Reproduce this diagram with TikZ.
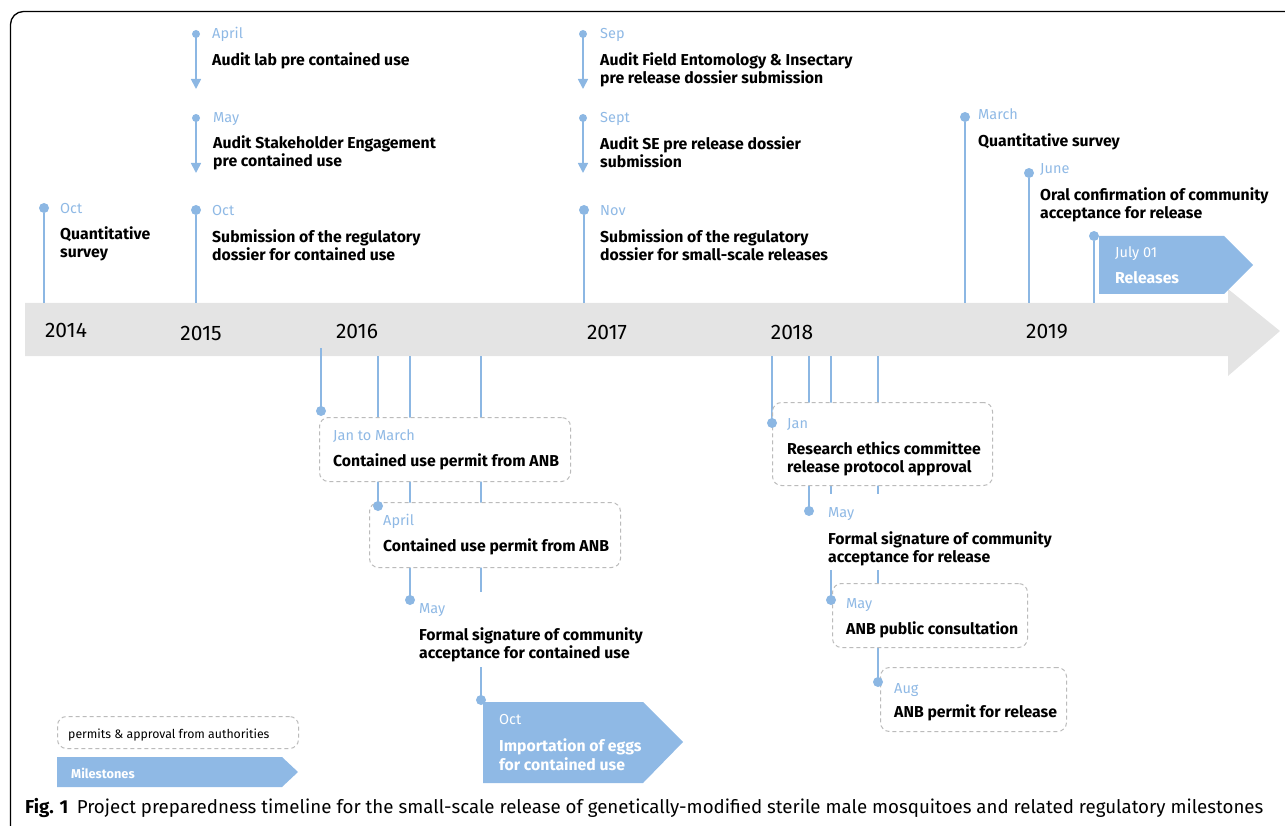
\documentclass[tikz,border=0pt]{standalone}
\usepackage{fontspec}
\setmainfont{Fira Sans}
\usetikzlibrary{arrows.meta}
\definecolor{lblue}{HTML}{8CB7E3}
\definecolor{mblue}{HTML}{8FB9E5}
\definecolor{bargray}{HTML}{E4E4E4}
\definecolor{dashgray}{HTML}{BBBBBB}
\tikzset{
 conn/.style={draw=lblue, line width=1.7},
 arr/.style={draw=lblue, line width=1.7, -{Triangle[width=10pt,length=10pt]}},
 bigdot/.style={circle, fill=lblue, inner sep=0, minimum size=10},
 smalldot/.style={circle, fill=lblue, inner sep=0, minimum size=8},
 monthlbl/.style={anchor=base west, inner sep=0, yshift=-1pt, text=mblue, font=\fontsize{14.5}{18}\selectfont},
 evtext/.style={anchor=base west, inner sep=0, yshift=-2pt, align=left, font=\fontsize{15.8}{18}\selectfont\bfseries},
 mstext/.style={anchor=base west, inner sep=0, yshift=-2pt, align=left, text=white, font=\fontsize{15.8}{19}\selectfont\bfseries},
 permbox/.style={draw=dashgray, fill=white, rounded corners=9, line width=1, dash pattern=on 4pt off 3pt, anchor=north west, inner sep=0},
 cover/.style={fill=white, draw=none, anchor=north west, inner sep=0},
 milestone/.style={fill=mblue},
 yearlbl/.style={font=\fontsize{21}{24}\selectfont, inner sep=0},
}
\begin{document}
\begin{tikzpicture}[x=1pt,y=-1pt]
\useasboundingbox (0,0) rectangle (1285,826);
\clip (0,0) rectangle (1285,826);
% frame
\draw[line width=1.3, rounded corners=13] (10.5,900) -- (10.5,11.5) -- (1400,11.5);
% timeline bar
\fill[bargray] (25,303) -- (1228,303) -- (1228,289) -- (1280,331) -- (1228,376) -- (1228,356) -- (25,356) -- cycle;
\coordinate (bartop) at (0,303);
\coordinate (barbot) at (0,356);
\coordinate (barin) at (0,348);
\node[yearlbl] (y14) at (66,330) {2014};
\node[yearlbl] (y15) at (201,333) {2015};
\node[yearlbl] (y16) at (357,331) {2016};
\node[yearlbl] (y17) at (607,332) {2017};
\node[yearlbl] (y18) at (792,332) {2018};
\node[yearlbl] (y19) at (1047,332) {2019};

% ---------- top events ----------
\node[bigdot] (d1) at (44,208) {};
\draw[conn] (d1) -- (d1 |- bartop);
\node[monthlbl] (m1) at (60,213) {Oct};
\node[evtext] (t1) at (60,256) {Quantitative\\survey};

\node[smalldot] (d2) at (196,34) {};
\coordinate (a2) at (196,89);
\draw[arr] (d2.center) -- (a2);
\node[monthlbl] (m2) at (212,38) {April};
\node[evtext] (t2) at (212,64) {Audit lab pre contained use};

\node[smalldot] (d3) at (196,118) {};
\coordinate (a3) at (196,173);
\draw[arr] (d3.center) -- (a3);
\node[monthlbl] (m3) at (213,122) {May};
\node[evtext] (t3) at (213,165) {Audit Stakeholder Engagement\\pre contained use};

\node[bigdot] (d4) at (196,210) {};
\draw[conn] (d4) -- (d4 |- bartop);
\node[monthlbl] (m4) at (212,215) {Oct};
\node[evtext] (t4) at (212,259) {Submission of the regulatory\\dossier for contained use};

\node[smalldot] (d5) at (583,34) {};
\coordinate (a5) at (583,89);
\draw[arr] (d5.center) -- (a5);
\node[monthlbl] (m5) at (600,38) {Sep};
\node[evtext] (t5) at (600,82) {Audit Field Entomology \& Insectary\\pre release dossier submission};

\node[smalldot] (d6) at (583,118) {};
\coordinate (a6) at (583,173);
\draw[arr] (d6.center) -- (a6);
\node[monthlbl] (m6) at (600,122) {Sept};
\node[evtext] (t6) at (600,166) {Audit SE pre release dossier\\submission};

\node[bigdot] (d7) at (584,210) {};
\draw[conn] (d7) -- (d7 |- bartop);
\node[monthlbl] (m7) at (600,215) {Nov};
\node[evtext] (t7) at (600,259) {Submission of the regulatory\\dossier for small-scale releases};

\node[bigdot] (d8) at (965,117) {};
\draw[conn] (d8) -- (d8 |- bartop);
\node[monthlbl] (m8) at (978,119) {March};
\node[evtext] (t8) at (978,145) {Quantitative survey};

\node[bigdot] (d9) at (1029,173) {};
\draw[conn] (d9) -- (d9 |- bartop);
\node[monthlbl] (m9) at (1040,173) {June};
\node[evtext] (t9) at (1040,217) {Oral confirmation of community\\acceptance for release};

\node[bigdot] (d10) at (1094,236) {};
\draw[conn] (d10) -- (d10 |- bartop);
\fill[milestone] (1099,236) -- (1224,236) -- (1253,265) -- (1224,294) -- (1099,294) -- cycle;
\node[monthlbl, text=white] (m10) at (1115,257) {July 01};
\node[mstext] (t10) at (1115,282) {Releases};

% ---------- bottom events: lines ----------
\coordinate (e1) at (321,411);
\coordinate (e2) at (378,506);
\coordinate (e3) at (410,600);
\coordinate (e4) at (481,700);
\coordinate (r1) at (772,423);
\coordinate (r2) at (809,511);
\coordinate (r3) at (831,600);
\coordinate (r4) at (878,682);
\draw[conn] (e1 |- barin) -- (e1);
\draw[conn] (e2 |- barbot) -- (e2);
\draw[conn] (e3 |- barbot) -- (e3);
\draw[conn] (e4 |- barbot) -- (e4);
\draw[conn] (r1 |- barbot) -- (r1);
\draw[conn] (r2 |- barbot) -- (r2);
\draw[conn] (r3 |- barbot) -- (r3);
\draw[conn] (r4 |- barbot) -- (r4);
% boxes / covers
\node[permbox, minimum width=251, minimum height=64] (b1) at (319,417) {};
\node[permbox, minimum width=251, minimum height=65] (b2) at (369,502) {};
\node[cover, minimum width=225, minimum height=75] (c3) at (416,592) {};
\node[permbox, minimum width=220, minimum height=83] (rb1) at (772,402) {};
\node[cover, minimum width=247, minimum height=76] (c2) at (818,494) {};
\node[permbox, minimum width=195, minimum height=64] (rb3) at (832,583) {};
\node[permbox, minimum width=186, minimum height=64] (rb4) at (880,667) {};
\fill[milestone] (483,702) -- (643,702) -- (683,742) -- (643,783) -- (483,783) -- cycle;
% dots on top
\node[bigdot] (de1) at (e1) {};
\node[bigdot] (de2) at (e2) {};
\node[bigdot] (de3) at (e3) {};
\node[bigdot] (de4) at (e4) {};
\node[bigdot] (dr1) at (r1) {};
\node[bigdot] (dr2) at (r2) {};
\node[bigdot] (dr3) at (r3) {};
\node[bigdot] (dr4) at (r4) {};
% texts
\node[monthlbl] (n1) at (333,439) {Jan to March};
\node[evtext] (u1) at (333,464) {Contained use permit from ANB};
\node[monthlbl] (n2) at (383,524) {April};
\node[evtext] (u2) at (383,549) {Contained use permit from ANB};
\node[monthlbl] (n3) at (419,612) {May};
\node[evtext] (u3) at (419,656) {Formal signature of community\\acceptance for contained use};
\node[monthlbl, text=white] (n4) at (499,723) {Oct};
\node[mstext] (u4) at (499,768) {Importation of eggs\\for contained use};

\node[monthlbl] (q1) at (787,427) {Jan};
\node[evtext] (v1) at (787,470) {Research ethics committee\\release protocol approval};
\node[monthlbl] (q2) at (828,516) {May};
\node[evtext] (v2) at (828,560) {Formal signature of community\\acceptance for release};
\node[monthlbl] (q3) at (846,607) {May};
\node[evtext] (v3) at (846,632) {ANB public consultation};
\node[monthlbl] (q4) at (894,692) {Aug};
\node[evtext] (v4) at (894,715) {ANB permit for release};

% legend
\node[permbox, minimum width=241, minimum height=32] (lg1) at (57,716) {};
\node[anchor=base west, inner sep=0, font=\fontsize{12.3}{15}\selectfont] (lt1) at (68,738) {permits \& approval from authorities};
\fill[milestone] (57,757) -- (282,757) -- (298,772) -- (282,787) -- (57,787) -- cycle;
\node[anchor=base west, inner sep=0, text=white, font=\fontsize{12.8}{15}\selectfont\bfseries] (lt2) at (71,778) {Milestones};

% caption
\node[anchor=base west, inner sep=0, font=\fontsize{18.7}{22}\selectfont] (cap) at (25,813) {\textbf{Fig. 1}\hspace{0.45em}Project preparedness timeline for the small-scale release of genetically-modified sterile male mosquitoes and related regulatory milestones};
\end{tikzpicture}
\end{document}
